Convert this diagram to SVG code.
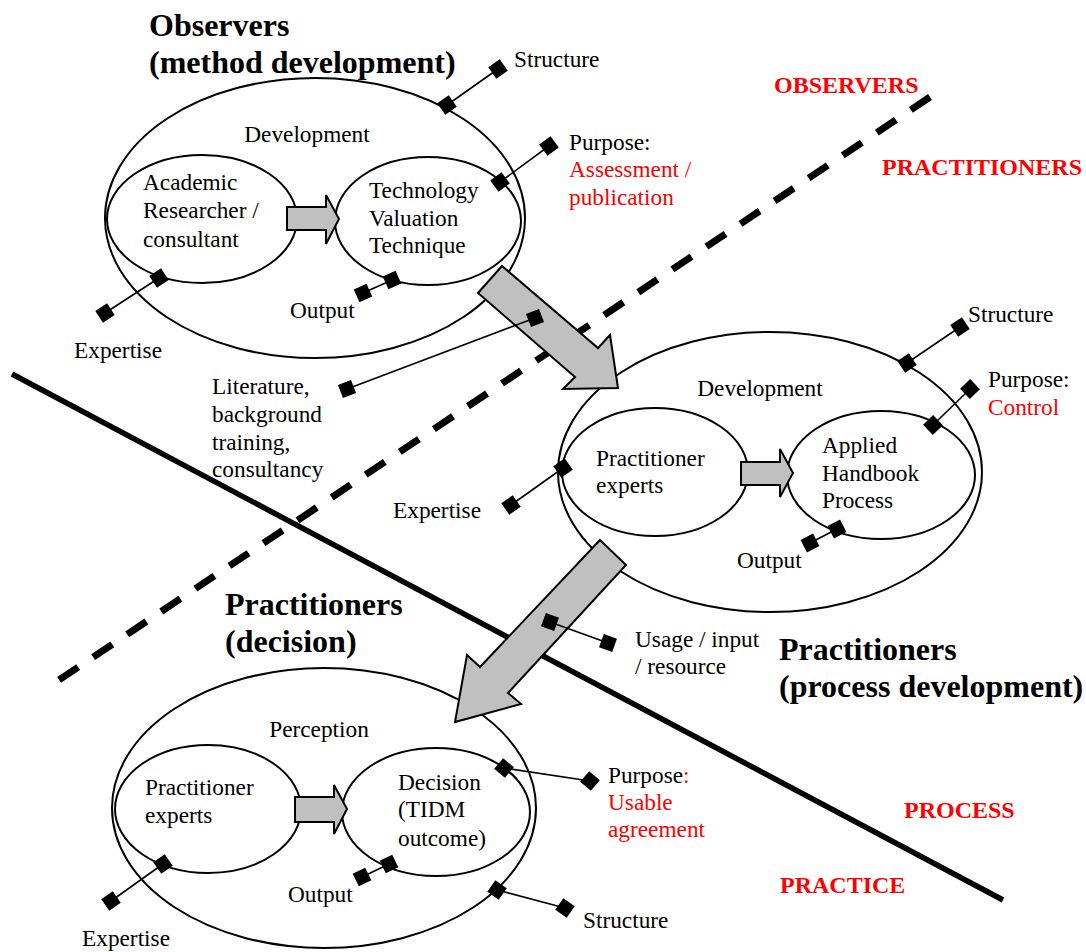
<svg xmlns="http://www.w3.org/2000/svg" xmlns:xlink="http://www.w3.org/1999/xlink" width="1086" height="952" viewBox="0 0 1086 952">
  <style>
    text { font-family: "Liberation Serif", "Times New Roman", serif; font-size: 23.3px; fill: #000; }
    .title { font-size: 32px; font-weight: bold; }
    .zone { font-size: 24px; font-weight: bold; fill: #ff0000; }
    .red { fill: #ff0000; }
    .mid { text-anchor: middle; }
    .outer, .inner { fill: none; stroke: #000; stroke-width: 2; }
    .flow { fill: #c0c0c0; stroke: #000; stroke-width: 2; stroke-linejoin: miter; }
    .stub { stroke: #000; stroke-width: 1.6; fill: none; }
    .sq { fill: #000; }
  </style>
  <defs>
    <rect id="sq" class="sq" x="-7" y="-7" width="14" height="14"/>
  </defs>

  <rect x="0" y="0" width="1086" height="952" fill="#fff"/>

  <!-- boundary lines -->
  <g id="dividers">
    <line x1="930" y1="97" x2="50" y2="686" stroke="#000" stroke-width="7" stroke-dasharray="23 18"/>
    <line x1="12" y1="374" x2="1003" y2="900" stroke="#000" stroke-width="5.5"/>
  </g>

  <!-- zone labels -->
  <g id="zone-labels">
    <text class="zone" x="774" y="93">OBSERVERS</text>
    <text class="zone" x="882" y="175">PRACTITIONERS</text>
    <text class="zone" x="904" y="818">PROCESS</text>
    <text class="zone" x="780" y="893">PRACTICE</text>
  </g>

  <!-- Observers: method development -->
  <g id="node-observers">
    <text class="title" x="149" y="36">Observers</text>
    <text class="title" x="149" y="73">(method development)</text>
    <ellipse class="outer" cx="315" cy="218" rx="210" ry="140"/>
    <text class="mid" x="307" y="142">Development</text>
    <ellipse class="inner" cx="202" cy="219" rx="95" ry="64"/>
    <ellipse class="inner" cx="428" cy="221" rx="93" ry="64"/>
    <polygon class="flow" points="287,207 326,207 326,195 339,219 326,244 326,230 287,230"/>
    <text x="143" y="190">Academic</text>
    <text x="143" y="218">Researcher /</text>
    <text x="143" y="247">consultant</text>
    <text x="369" y="198">Technology</text>
    <text x="369" y="226">Valuation</text>
    <text x="369" y="253">Technique</text>
  </g>

  <!-- Practitioners: process development -->
  <g id="node-process">
    <ellipse class="outer" cx="770" cy="472" rx="212" ry="140"/>
    <text class="mid" x="760" y="396">Development</text>
    <ellipse class="inner" cx="655" cy="472" rx="93" ry="64"/>
    <ellipse class="inner" cx="881" cy="475" rx="94" ry="64"/>
    <polygon class="flow" points="741,462 780,462 780,449 793,473 780,497 780,485 741,485"/>
    <text x="596" y="466">Practitioner</text>
    <text x="596" y="493">experts</text>
    <text x="822" y="453">Applied</text>
    <text x="822" y="481">Handbook</text>
    <text x="822" y="508">Process</text>
    <text class="title" x="779" y="660">Practitioners</text>
    <text class="title" x="779" y="697">(process development)</text>
  </g>

  <!-- Practitioners: decision -->
  <g id="node-decision">
    <text class="title" x="225" y="615">Practitioners</text>
    <text class="title" x="225" y="652">(decision)</text>
    <ellipse class="outer" cx="324" cy="808" rx="212" ry="140"/>
    <text class="mid" x="319" y="737">Perception</text>
    <ellipse class="inner" cx="208" cy="809" rx="93" ry="64"/>
    <ellipse class="inner" cx="436" cy="812" rx="94" ry="64"/>
    <polygon class="flow" points="295,797 334,797 334,785 347,809 334,834 334,822 295,822"/>
    <text x="145" y="795">Practitioner</text>
    <text x="145" y="823">experts</text>
    <text x="398" y="790">Decision</text>
    <text x="398" y="817">(TIDM</text>
    <text x="398" y="846">outcome)</text>
  </g>

  <!-- connectors: transfer arrows and attribute stubs -->
  <g id="connectors">
    <polygon class="flow" points="502,266 598,348 610,335 618,388 563,389 575,377 478,293"/>
    <polygon class="flow" points="600,540 626,565 508,693 521,704 455,722 467,655 480,667"/>

    <!-- stub lines -->
    <line class="stub" x1="447" y1="105" x2="498" y2="69"/>
    <line class="stub" x1="500" y1="182" x2="549" y2="146"/>
    <line class="stub" x1="392" y1="280" x2="363" y2="293"/>
    <line class="stub" x1="159" y1="278" x2="105" y2="313"/>
    <line class="stub" x1="535" y1="318" x2="347" y2="389"/>
    <line class="stub" x1="907" y1="363" x2="960" y2="327"/>
    <line class="stub" x1="933" y1="425" x2="970" y2="389"/>
    <line class="stub" x1="837" y1="529" x2="810" y2="543"/>
    <line class="stub" x1="563" y1="468" x2="511" y2="505"/>
    <line class="stub" x1="550" y1="622" x2="608" y2="643"/>
    <line class="stub" x1="504" y1="768" x2="590" y2="781"/>
    <line class="stub" x1="389" y1="864" x2="362" y2="877"/>
    <line class="stub" x1="497" y1="890" x2="565" y2="908"/>
    <line class="stub" x1="163" y1="864" x2="111" y2="901"/>

    <!-- stub end markers -->
    <use xlink:href="#sq" transform="translate(447,105) rotate(-35)"/>
    <use xlink:href="#sq" transform="translate(498,69) rotate(-35)"/>
    <use xlink:href="#sq" transform="translate(500,182) rotate(-36)"/>
    <use xlink:href="#sq" transform="translate(549,146) rotate(-36)"/>
    <use xlink:href="#sq" transform="translate(392,280) rotate(-24)"/>
    <use xlink:href="#sq" transform="translate(363,293) rotate(-24)"/>
    <use xlink:href="#sq" transform="translate(159,278) rotate(-33)"/>
    <use xlink:href="#sq" transform="translate(105,313) rotate(-33)"/>
    <use xlink:href="#sq" transform="translate(535,318) rotate(-21)"/>
    <use xlink:href="#sq" transform="translate(347,389) rotate(-21)"/>
    <use xlink:href="#sq" transform="translate(907,363) rotate(-34)"/>
    <use xlink:href="#sq" transform="translate(960,327) rotate(-34)"/>
    <use xlink:href="#sq" transform="translate(933,425) rotate(-44)"/>
    <use xlink:href="#sq" transform="translate(970,389) rotate(-44)"/>
    <use xlink:href="#sq" transform="translate(837,529) rotate(-27)"/>
    <use xlink:href="#sq" transform="translate(810,543) rotate(-27)"/>
    <use xlink:href="#sq" transform="translate(563,468) rotate(-35)"/>
    <use xlink:href="#sq" transform="translate(511,505) rotate(-35)"/>
    <use xlink:href="#sq" transform="translate(550,622) rotate(20)"/>
    <use xlink:href="#sq" transform="translate(608,643) rotate(20)"/>
    <use xlink:href="#sq" transform="translate(504,768) rotate(40)"/>
    <use xlink:href="#sq" transform="translate(590,781) rotate(40)"/>
    <use xlink:href="#sq" transform="translate(389,864) rotate(-26)"/>
    <use xlink:href="#sq" transform="translate(362,877) rotate(-26)"/>
    <use xlink:href="#sq" transform="translate(497,890) rotate(35)"/>
    <use xlink:href="#sq" transform="translate(565,908) rotate(35)"/>
    <use xlink:href="#sq" transform="translate(163,864) rotate(-35)"/>
    <use xlink:href="#sq" transform="translate(111,901) rotate(-35)"/>
  </g>

  <!-- stub labels -->
  <g id="stub-labels">
    <text x="514" y="67">Structure</text>
    <text x="569" y="150">Purpose:</text>
    <text class="red" x="569" y="177">Assessment /</text>
    <text class="red" x="569" y="205">publication</text>
    <text x="290" y="318">Output</text>
    <text x="74" y="358">Expertise</text>
    <text x="212" y="394">Literature,</text>
    <text x="212" y="422">background</text>
    <text x="212" y="450">training,</text>
    <text x="212" y="477">consultancy</text>

    <text x="968" y="322">Structure</text>
    <text x="988" y="387">Purpose:</text>
    <text class="red" x="988" y="415">Control</text>
    <text x="737" y="568">Output</text>
    <text x="393" y="518">Expertise</text>

    <text x="635" y="647">Usage / input</text>
    <text x="635" y="674">/ resource</text>

    <text x="608" y="783">Purpose<tspan class="red">:</tspan></text>
    <text class="red" x="608" y="810">Usable</text>
    <text class="red" x="608" y="837">agreement</text>
    <text x="288" y="902">Output</text>
    <text x="583" y="928">Structure</text>
    <text x="82" y="946">Expertise</text>
  </g>
</svg>
